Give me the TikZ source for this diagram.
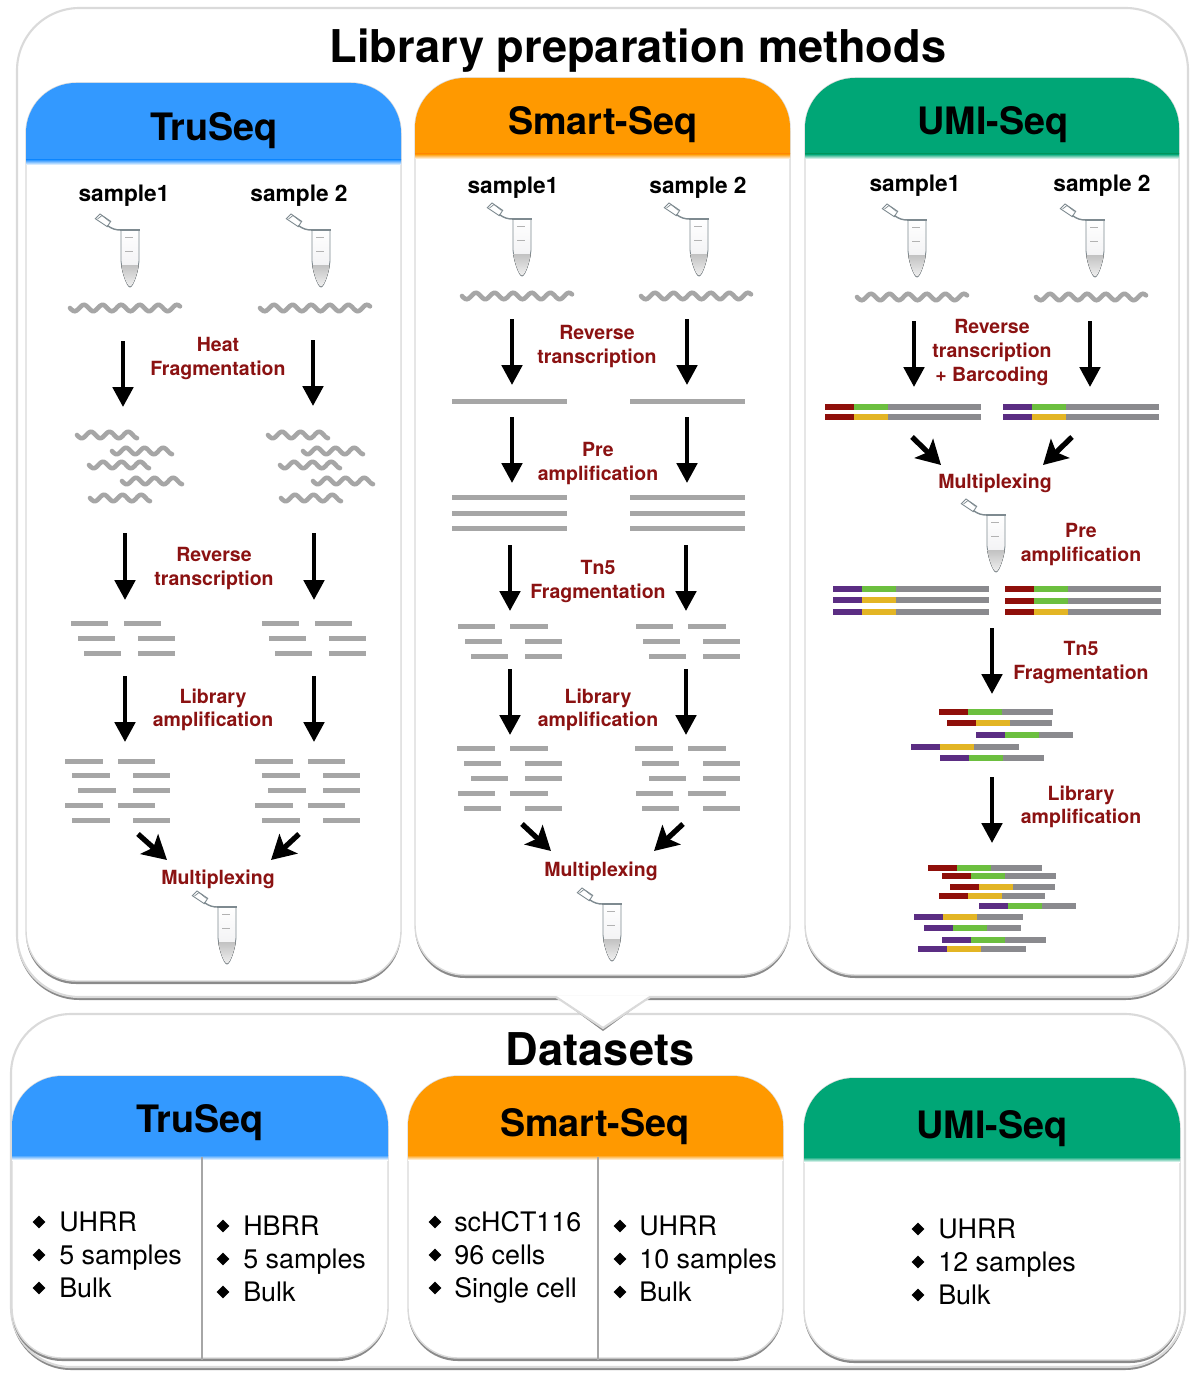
\documentclass[tikz,border=0pt]{standalone}
\usepackage{fontspec}
\setmainfont{TeX Gyre Heros}
\usetikzlibrary{arrows.meta,shapes.geometric}
\definecolor{cblue}{HTML}{3399FF}
\definecolor{corange}{HTML}{FF9900}
\definecolor{cgreen}{HTML}{00A676}
\definecolor{lred}{HTML}{8B1212}
\definecolor{bgrey}{HTML}{A6A6A6}
\definecolor{dgrey}{HTML}{8A8A8E}
\definecolor{bred}{HTML}{8F0F0A}
\definecolor{bgreen}{HTML}{6CBF3F}
\definecolor{byel}{HTML}{E3B524}
\definecolor{bpur}{HTML}{5B2D83}
\definecolor{edgec}{HTML}{DADADA}
\definecolor{shadc}{HTML}{8A8A8A}
\definecolor{tubec}{HTML}{7E8A90}
\tikzset{
  lab/.style={text=lred,font=\fontsize{11.1}{13.6}\selectfont\bfseries,align=center,inner sep=0pt,yshift=-1.6pt},
  samp/.style={text=black,font=\fontsize{12.9}{15}\selectfont\bfseries,inner sep=0pt,yshift=-1.1pt},
  head/.style={text=black,font=\fontsize{21.5}{24}\selectfont\bfseries,inner sep=0pt,yshift=-2pt},
  bigt/.style={text=black,font=\fontsize{25.7}{30}\selectfont\bfseries,inner sep=0pt},
  item/.style={text=black,font=\fontsize{15.3}{18}\selectfont,anchor=base west,inner sep=0pt,xshift=-.6pt,yshift=-5.6pt},
  bul/.style={diamond,fill=black,minimum size=7.5pt,inner sep=0pt},
  flowv/.style={line width=2.4pt,draw=black,-{Triangle[length=11.3pt,width=11.5pt]}},
  flowd/.style={line width=3pt,draw=black,-{Stealth[length=13.5pt,width=15pt,inset=3pt]}},
  wv/.style={line width=2.6pt,draw=bgrey,line cap=round},
  tube/.pic={
    \draw[line width=.5pt,draw=tubec,fill=white] (-34.7,-11.3) -- (-30,-16) -- (-19.3,-8.7) -- (-22.7,-3.3) -- cycle;
    \draw[line width=.4pt,draw=tubec] (-32.5,-11) -- (-28,-14.5) -- (-20.5,-8.5);
    \draw[line width=.8pt,draw=tubec] (-22.7,-4.5) .. controls (-18,-1) and (-14,0) .. (-9.5,0);
    \draw[line width=.5pt,draw=tubec,top color=white,bottom color=blue!8!gray!14] (-9,0) -- (9,0) -- (9,31) .. controls (8,42) and (3,57) .. (0,57) .. controls (-3,57) and (-8,42) .. (-9,31) -- cycle;
    \fill[top color=gray!48,bottom color=gray!12] (-8.7,35) -- (8.7,35) .. controls (7.5,44) and (3,56.5) .. (0,56.5) .. controls (-3,56.5) and (-7.5,44) .. (-8.7,35) -- cycle;
    \draw[line width=1.1pt,draw=tubec] (-10,0) -- (10,0);
    \draw[line width=.3pt,draw=gray!60] (-5,7) -- (3,7) (-5,21) -- (3,21);
  }
}
\newcommand{\gb}[3]{\fill[bgrey] (#1,#3-2.5) rectangle (#2,#3+2.5);}
\newcommand{\wavy}[3]{\draw[wv] plot[domain=0:#3,samples=70,smooth] ({#1+\x},{#2+3.2*sin(\x*19.355)});}
\newcommand{\cbar}[5]{%
  \fill[#4] (#1,#3-3) rectangle (#1+29,#3+3);
  \fill[#5] (#1+29,#3-3) rectangle (#1+63,#3+3);
  \fill[dgrey] (#1+63,#3-3) rectangle (#2,#3+3);}
\newcommand{\flow}[6]{%
  \coordinate (#1s) at (#3,#4);
  \coordinate (#1e) at (#5,#6);
  \draw[#2] (#1s) -- (#1e);}
\newcommand{\panel}[6]{%
  \fill[shadc,rounded corners=#5] (#1,#2+3) rectangle (#3,#4+3);
  \draw[edgec,line width=#6,fill=white,rounded corners=#5] (#1,#2) rectangle (#3,#4);}
\newcommand{\header}[5]{%
  \begin{scope}
    \clip (#1-2,#2-2) rectangle (#3+2,#4);
    \fill[#5,rounded corners=1cm] (#1,#2) rectangle (#3,#4+80);
  \end{scope}
  \shade[top color=#5,bottom color=white] (#1,#4) rectangle (#3,#4+5);}
\newcommand{\bullets}[4]{%
  \node[bul] at (#1,#3) {};
  \node[bul] at (#1,#3+33) {};
  \node[bul] at (#1,#3+66) {};}
\begin{document}
\begin{tikzpicture}[x=0.02cm,y=-0.02cm]
\useasboundingbox (0,0) rectangle (1200,1382);
\fill[white] (0,0) rectangle (1200,1382);
% lower panel
\panel{11}{1014}{1185}{1367}{1.2cm}{1.2pt}
% upper panel
\panel{17}{8}{1188}{997}{1.25cm}{1.2pt}
\fill[shadc] (558,998) -- (603,1031) -- (648,998) -- cycle;
\fill[white] (556,996) -- (650,996) -- (603,1028) -- cycle;
\draw[edgec,line width=1.2pt] (556,997) -- (603,1028) -- (650,997);
% inner panels
\panel{26}{83}{401}{981}{1cm}{.8pt}
\panel{415}{78}{790}{975}{1cm}{.8pt}
\panel{805}{78}{1179}{975}{1cm}{.8pt}
\header{26}{83}{401}{160}{cblue}
\header{415}{78}{790}{154}{corange}
\header{805}{78}{1179}{154}{cgreen}
\panel{12}{1076}{388}{1358}{1cm}{.8pt}
\panel{408}{1076}{783}{1358}{1cm}{.8pt}
\panel{804}{1078}{1180}{1360}{1cm}{.8pt}
\header{12}{1076}{388}{1155}{cblue}
\header{408}{1076}{783}{1155}{corange}
\header{804}{1078}{1180}{1157}{cgreen}
\draw[bgrey,line width=1.1pt] (202,1157) -- (202,1360);
\draw[bgrey,line width=1.1pt] (598,1157) -- (598,1360);
% titles
\node[bigt] (title) at (638,51) {Library preparation methods};
\node[bigt] (datasets) at (600,1049) {Datasets};
\node[head] (h1) at (214,127) {TruSeq};
\node[head] (h2) at (603,121) {Smart-Seq};
\node[head] (h3) at (993,121) {UMI-Seq};
\node[head] (h4) at (200,1119) {TruSeq};
\node[head] (h5) at (595,1123) {Smart-Seq};
\node[head] (h6) at (992,1125) {UMI-Seq};
% sample labels
\node[samp] (s1) at (124,194) {sample1};
\node[samp] (s2) at (299,194) {sample 2};
\node[samp] (s3) at (513,186) {sample1};
\node[samp] (s4) at (698,186) {sample 2};
\node[samp] (s5) at (915,184) {sample1};
\node[samp] (s6) at (1102,184) {sample 2};
% tubes
\pic at (130,230) {tube};
\pic at (321,230) {tube};
\pic at (227,907) {tube};
\pic at (522,219) {tube};
\pic at (699,219) {tube};
\pic at (612,904) {tube};
\pic at (917,220) {tube};
\pic at (1095,220) {tube};
\pic at (996,515) {tube};
% TruSeq waves
\wavy{70}{308}{110}
\wavy{260}{308}{110}
\foreach \d in {0,191}{
  \wavy{77+\d}{435}{60}
  \wavy{112+\d}{451}{60}
  \wavy{89+\d}{465}{60}
  \wavy{122+\d}{481}{60}
  \wavy{90+\d}{498}{60}
}
% TruSeq bars
\foreach \d in {0,191}{
  \gb{71+\d}{108+\d}{623}\gb{124+\d}{161+\d}{623}
  \gb{78+\d}{115+\d}{638}\gb{138+\d}{175+\d}{638}
  \gb{84+\d}{121+\d}{653}\gb{138+\d}{175+\d}{653}
}
\foreach \d in {0,190}{
  \gb{65+\d}{103+\d}{761}\gb{118+\d}{155+\d}{761}
  \gb{72+\d}{110+\d}{775}\gb{133+\d}{170+\d}{775}
  \gb{78+\d}{116+\d}{790}\gb{133+\d}{170+\d}{790}
  \gb{65+\d}{103+\d}{805}\gb{118+\d}{155+\d}{805}
  \gb{72+\d}{110+\d}{820}\gb{133+\d}{170+\d}{820}
}
% Smart-Seq
\wavy{462}{296}{110}
\wavy{641}{296}{110}
\foreach \d in {0,178}{
  \gb{452+\d}{567+\d}{401}
  \gb{452+\d}{567+\d}{497}
  \gb{452+\d}{567+\d}{513}
  \gb{452+\d}{567+\d}{528}
  \gb{458+\d}{495+\d}{626}\gb{510+\d}{548+\d}{626}
  \gb{465+\d}{502+\d}{641}\gb{525+\d}{562+\d}{641}
  \gb{471+\d}{508+\d}{656}\gb{525+\d}{562+\d}{656}
  \gb{457+\d}{495+\d}{748}\gb{510+\d}{548+\d}{748}
  \gb{464+\d}{501+\d}{763}\gb{525+\d}{562+\d}{763}
  \gb{471+\d}{508+\d}{778}\gb{525+\d}{562+\d}{778}
  \gb{458+\d}{495+\d}{793}\gb{510+\d}{548+\d}{793}
  \gb{464+\d}{501+\d}{808}\gb{525+\d}{562+\d}{808}
}
% UMI-Seq
\wavy{857}{297}{110}
\wavy{1036}{297}{110}
\cbar{825}{981}{407}{bred}{bgreen}
\cbar{825}{981}{417}{bred}{byel}
\cbar{1003}{1159}{407}{bpur}{bgreen}
\cbar{1003}{1159}{417}{bpur}{byel}
\cbar{833}{989}{589}{bpur}{bgreen}
\cbar{833}{989}{600}{bpur}{byel}
\cbar{833}{989}{612}{bpur}{byel}
\cbar{1005}{1161}{589}{bred}{bgreen}
\cbar{1005}{1161}{601}{bred}{bgreen}
\cbar{1005}{1161}{612}{bred}{byel}
\cbar{939}{1053}{712}{bred}{bgreen}
\cbar{947}{1052}{723}{bred}{byel}
\cbar{976}{1073}{735}{bpur}{bgreen}
\cbar{911}{1019}{747}{bpur}{byel}
\cbar{940}{1044}{758}{bpur}{bgreen}
\cbar{928}{1042}{868}{bred}{bgreen}
\cbar{942}{1056}{876}{bred}{bgreen}
\cbar{950}{1055}{887}{bred}{byel}
\cbar{939}{1045}{896}{bred}{byel}
\cbar{979}{1076}{906}{bpur}{bgreen}
\cbar{914}{1023}{917}{bpur}{byel}
\cbar{924}{1021}{928}{bpur}{bgreen}
\cbar{942}{1046}{940}{bpur}{bgreen}
\cbar{918}{1026}{949}{bpur}{byel}
% arrows
\flow{a1}{flowv}{123}{341}{123}{407}
\flow{a2}{flowv}{313}{340}{313}{406}
\flow{a3}{flowv}{125}{533}{125}{600}
\flow{a4}{flowv}{314}{533}{314}{600}
\flow{a5}{flowv}{125}{676}{125}{742}
\flow{a6}{flowv}{314}{676}{314}{742}
\flow{a7}{flowd}{138}{834}{167}{860}
\flow{a8}{flowd}{299}{834}{271}{860}
\flow{b1}{flowv}{512}{319}{512}{385}
\flow{b2}{flowv}{687}{319}{687}{385}
\flow{b3}{flowv}{512}{417}{512}{483}
\flow{b4}{flowv}{687}{417}{687}{483}
\flow{b5}{flowv}{510}{545}{510}{611}
\flow{b6}{flowv}{686}{545}{686}{611}
\flow{b7}{flowv}{510}{669}{510}{735}
\flow{b8}{flowv}{686}{669}{686}{735}
\flow{b9}{flowd}{522}{824}{551}{851}
\flow{b10}{flowd}{683}{824}{654}{851}
\flow{c1}{flowv}{914}{321}{914}{387}
\flow{c2}{flowv}{1090}{321}{1090}{387}
\flow{c3}{flowd}{912}{437}{941}{465}
\flow{c4}{flowd}{1072}{437}{1043}{465}
\flow{c5}{flowv}{992}{628}{992}{694}
\flow{c6}{flowv}{992}{777}{992}{843}
% step labels
\node[lab] (l1) at (218,356) {Heat\\Fragmentation};
\node[lab] (l2) at (214,566) {Reverse\\transcription};
\node[lab] (l3) at (213,707) {Library\\amplification};
\node[lab] (l4) at (218,877) {Multiplexing};
\node[lab] (l5) at (597,344) {Reverse\\transcription};
\node[lab] (l6) at (598,461) {Pre\\amplification};
\node[lab] (l7) at (598,579) {Tn5\\Fragmentation};
\node[lab] (l8) at (598,707) {Library\\amplification};
\node[lab] (l9) at (601,869) {Multiplexing};
\node[lab] (l10) at (992,350) {Reverse\\transcription\\+ Barcoding};
\node[lab] (l11) at (995,481) {Multiplexing};
\node[lab] (l12) at (1081,542) {Pre\\amplification};
\node[lab] (l13) at (1081,660) {Tn5\\Fragmentation};
\node[lab] (l14) at (1081,804) {Library\\amplification};
% lists
\bullets{39}{60}{1222}{}
\node[item] (t1) at (60,1222) {UHRR};
\node[item] (t2) at (60,1255) {5 samples};
\node[item] (t3) at (60,1288) {Bulk};
\bullets{223}{244}{1226}{}
\node[item] (t4) at (244,1226) {HBRR};
\node[item] (t5) at (244,1259) {5 samples};
\node[item] (t6) at (244,1292) {Bulk};
\bullets{435}{455}{1222}{}
\node[item] (t7) at (455,1222) {scHCT116};
\node[item] (t8) at (455,1255) {96 cells};
\node[item] (t9) at (455,1288) {Single cell};
\bullets{620}{640}{1226}{}
\node[item] (t10) at (640,1226) {UHRR};
\node[item] (t11) at (640,1259) {10 samples};
\node[item] (t12) at (640,1292) {Bulk};
\bullets{918}{939}{1229}{}
\node[item] (t13) at (939,1229) {UHRR};
\node[item] (t14) at (939,1262) {12 samples};
\node[item] (t15) at (939,1295) {Bulk};
\end{tikzpicture}
\end{document}
